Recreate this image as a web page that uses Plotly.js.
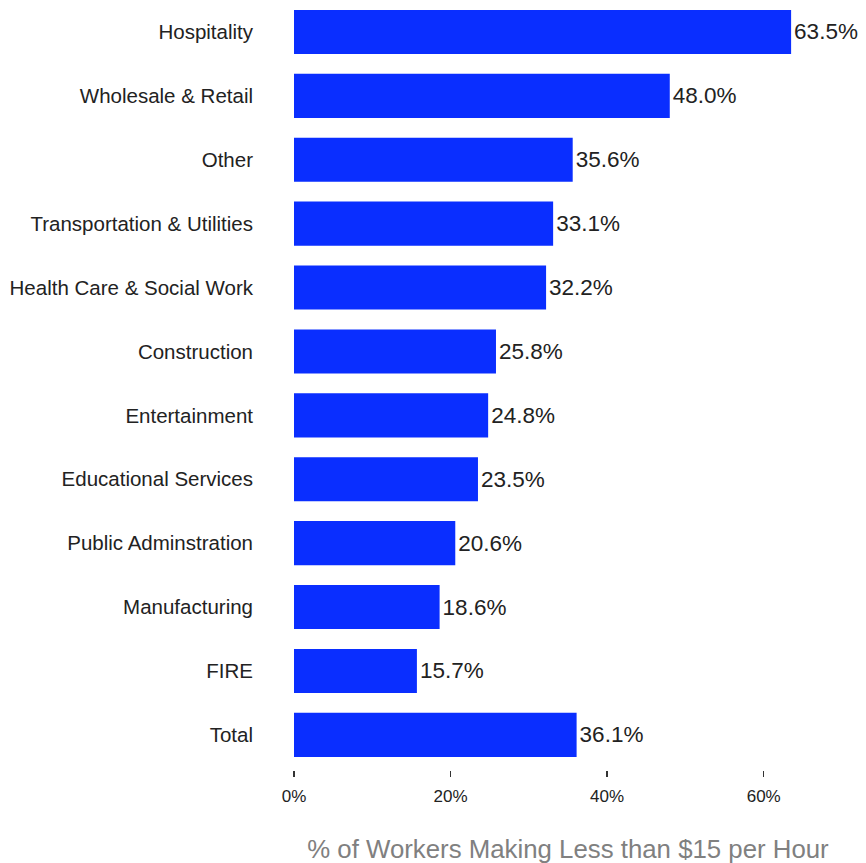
<!DOCTYPE html>
<html>
<head>
<meta charset="utf-8">
<script src="https://cdn.plot.ly/plotly-3.0.1.min.js"></script>
<style>html,body{margin:0;padding:0;background:#fff;}#chart{width:866px;height:863px;}</style>
</head>
<body>
<div id="chart"></div>
<script>
const categories = ["Hospitality","Wholesale & Retail","Other","Transportation & Utilities","Health Care & Social Work","Construction","Entertainment","Educational Services","Public Adminstration","Manufacturing","FIRE","Total"];
const values = [63.5, 48.0, 35.6, 33.1, 32.2, 25.8, 24.8, 23.5, 20.6, 18.6, 15.7, 36.1];
const tickVals = [0, 20, 40, 60];
const tickText = ["0%", "20%", "40%", "60%"];

const FONT = "Liberation Sans, Arial, Helvetica, sans-serif";

Plotly.newPlot("chart", [{
  type: "bar",
  orientation: "h",
  x: values,
  y: categories,
  marker: {color: "#0A2EFF"},
  texttemplate: "%{x:.1f}%",
  textposition: "outside",
  cliponaxis: false,
  textfont: {family: FONT, size: 22.5, color: "#222"},
  hoverinfo: "none"
}], {
  width: 866, height: 863,
  margin: {l: 294, r: 24, t: 0, b: 93},
  paper_bgcolor: "#fff", plot_bgcolor: "#fff",
  bargap: 0.31,
  showlegend: false,
  font: {family: FONT},
  xaxis: {
    range: [0, 70],
    tickvals: tickVals, ticktext: tickText,
    ticks: "outside", ticklen: 6, tickwidth: 1.5, tickcolor: "#333",
    ticklabelstandoff: 5,
    showgrid: false, zeroline: false, showline: false,
    tickfont: {family: FONT, size: 17, color: "#222"},
    title: {text: "% of Workers Making Less than $15 per Hour", font: {family: FONT, size: 25.8, color: "#808080"}, standoff: 36}
  },
  yaxis: {
    type: "category",
    range: [11.55, -0.5],
    showgrid: false, zeroline: false, showline: false,
    ticks: "", ticklabelstandoff: 40,
    tickfont: {family: FONT, size: 20.5, color: "#222"}
  }
}, {staticPlot: true});
</script>
</body>
</html>
